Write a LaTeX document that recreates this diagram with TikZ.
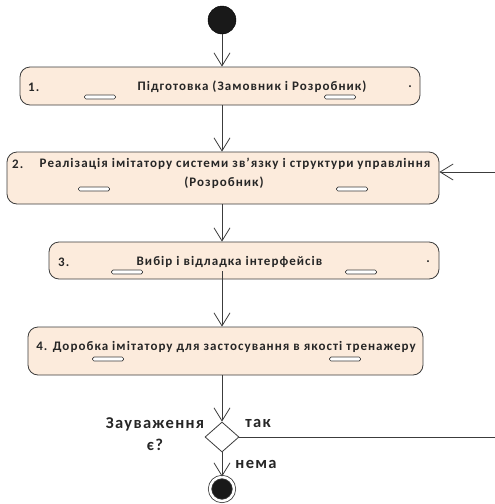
\documentclass[tikz,border=0pt]{standalone}
\usepackage{fontspec}
\setmainfont{Carlito}[LetterSpace=8]
\usepackage{tikz}
\usetikzlibrary{positioning}
\usetikzlibrary{arrows.meta,shapes.geometric}
\definecolor{actfill}{RGB}{252,235,220}
\definecolor{lineclr}{RGB}{60,60,60}
\tikzset{
  activity/.style={draw=lineclr,fill=actfill,rectangle,rounded corners=10pt,line width=0.8pt},
  grip/.style={draw=lineclr,fill=white,rectangle,rounded corners=1.5pt,minimum width=31pt,minimum height=4pt,inner sep=0,line width=0.7pt},
  flow/.style={draw=lineclr,line width=0.8pt,-{Straight Barb[length=13pt,width=16pt]}},
  acttext/.style={font=\fontsize{13}{19}\selectfont\bfseries,text=black!85,inner sep=0},
  dectext/.style={font=\fontsize{16.5}{22}\selectfont\bfseries,text=black!85,inner sep=0,align=center}
}
\begin{document}
\begin{tikzpicture}[x=1pt,y=-1pt]
\useasboundingbox (0,0) rectangle (495,504);
%start
\node (start) at (222,20) [circle,fill=black!90,draw=black,minimum size=28pt,inner sep=0] {};

%activity blocks
\node (act1) at (220,86) [activity,minimum width=400pt,minimum height=38pt] {};
\node (act2) at (223,178) [activity,minimum width=432pt,minimum height=52pt] {};
\node (act3) at (244,260.5) [activity,minimum width=390pt,minimum height=37pt] {};
\node (act4) at (225.5,351) [activity,minimum width=395pt,minimum height=48pt] {};

%grips under the texts
\foreach \n/\x/\y in {1/100/97,2/340/97,3/94/189,4/352/189,5/127/272,6/361/272,7/108/359,8/345/359}{
  \node (g\n) at (\x,\y) [grip] {};
}

%texts
\node (n1) at (28,87) [acttext,anchor=west] {1.};
\node (t1) at (252,87) [acttext] {Підготовка (Замовник і Розробник)};
\node (d1) at (410,87) [acttext] {.};
\node (n2) at (12,164) [acttext,anchor=west] {2.};
\node (t2) at (235,164) [acttext] {Реалізація імітатору системи зв’язку і структури управління};
\node (t2b) at (224,183) [acttext] {(Розробник)};
\node (n3) at (58,262) [acttext,anchor=west] {3.};
\node (t3) at (229.5,262) [acttext] {Вибір і відладка інтерфейсів};
\node (d3) at (428,262) [acttext] {.};
\node (t4) at (226,347) [acttext] {4. Доробка імітатору для застосування в якості тренажеру};

%decision and end
\node (dec) at (222,437) [diamond,draw=lineclr,fill=white,line width=0.8pt,minimum width=34pt,minimum height=30pt,inner sep=0] {};
\node (stop) at (222,489) [circle,draw=lineclr,fill=black!90,line width=0.8pt,double=white,double distance=2.5pt,minimum size=24pt,inner sep=0] {};
\node (q) at (155,434) [dectext] {Зауваження\\є?};
\node (yes) at (258,423) [dectext] {так};
\node (no) at (256,464) [dectext] {нема};

%back edge
\coordinate (backout) at (495,437);
\coordinate (backin) at (495,172);

%flow
\draw [flow] (start) -- (start |- act1.north);
\draw [flow] (start |- act1.south) -- (start |- act2.north);
\draw [flow] (start |- act2.south) -- (start |- act3.north);
\draw [flow] ([yshift=8pt]start |- act3.south) -- (start |- act4.north);
\draw [flow] (start |- act4.south) -- (dec.north);
\draw [flow] (dec.south) -- (stop.north);
\draw [draw=lineclr,line width=0.8pt] (dec.east) -- (backout);
\draw [flow] (backin) -- (act2.east |- backin);
\end{tikzpicture}
\end{document}
